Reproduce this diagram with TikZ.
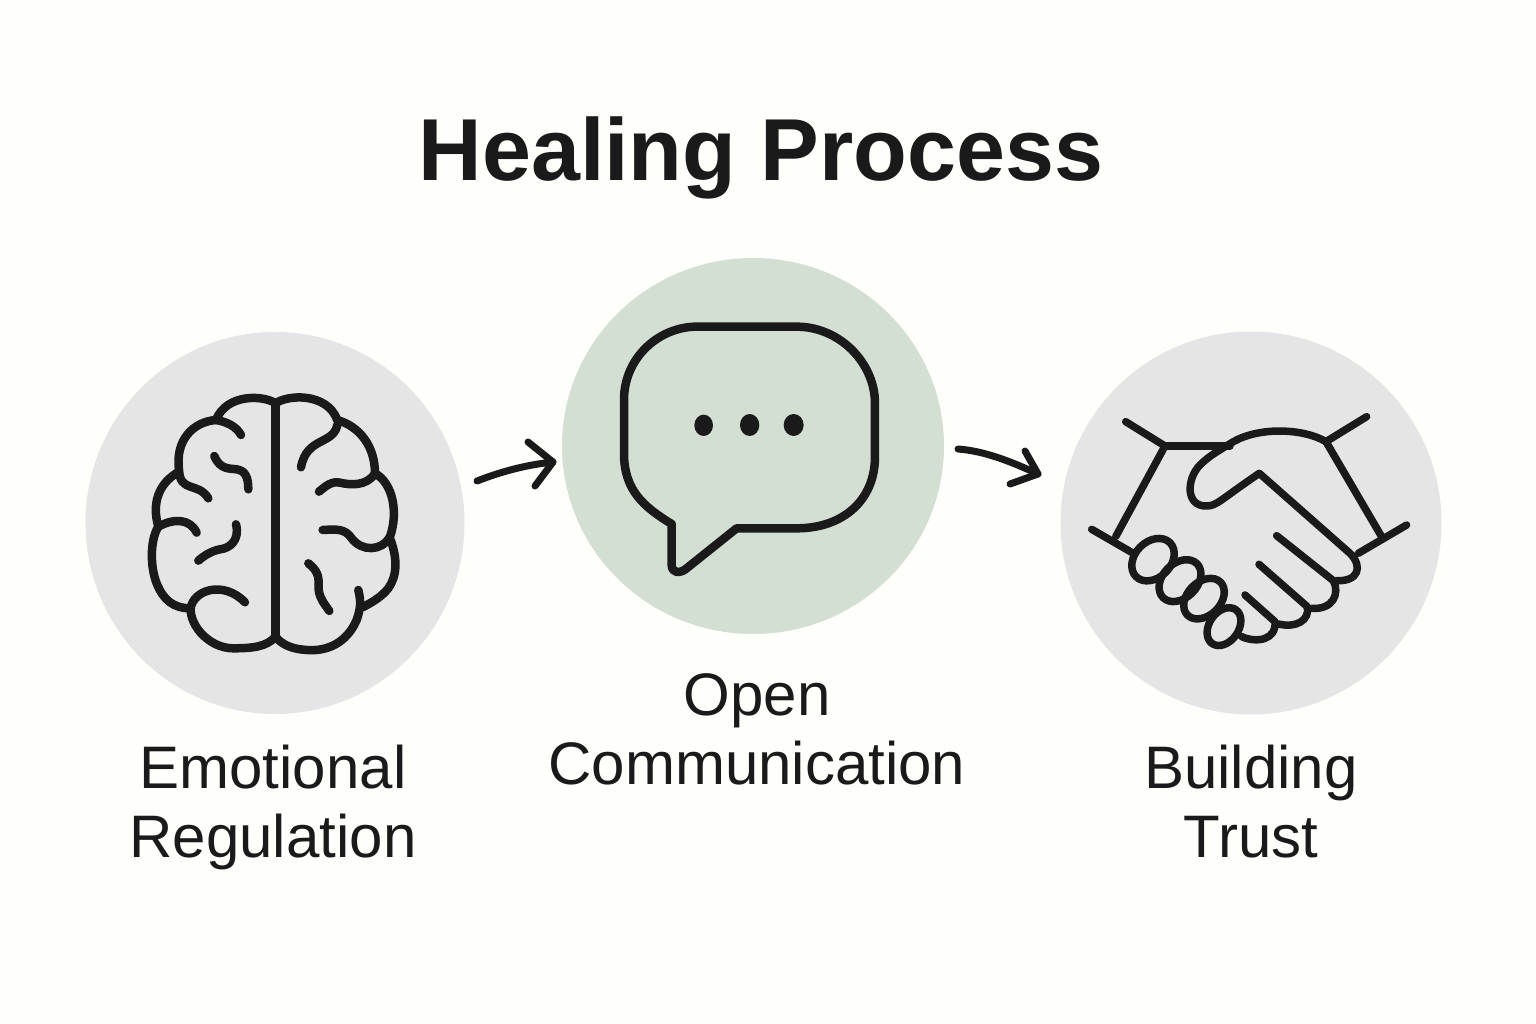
\documentclass[tikz,border=0pt]{standalone}
\usepackage{fontspec}
\usetikzlibrary{shapes.geometric}
\setmainfont{Liberation Sans}
\definecolor{bgc}{HTML}{FEFEFB}
\definecolor{greyc}{HTML}{E5E5E5}
\definecolor{greenc}{HTML}{D3DFD3}
\definecolor{inkc}{HTML}{1A1A1A}
\tikzset{
 disc/.style={ellipse,inner sep=0pt,draw=none},
 icon/.style={draw=inkc,line width=8.5pt,line cap=round,line join=round},
 iconthin/.style={draw=inkc,line width=7.5pt,line cap=round,line join=round},
 lbl/.style={text=inkc,align=center,inner sep=0pt,font=\fontsize{60}{69}\selectfont},
 flow/.style={draw=inkc,line width=7pt,line cap=round,line join=round}
}
\begin{document}
\begin{tikzpicture}[x=1pt,y=-1pt]
\fill[bgc] (0,0) rectangle (1536,1024);
\useasboundingbox (0,0) rectangle (1536,1024);
\node[disc,fill=greyc,minimum width=379pt,minimum height=382pt] (emo) at (275,523) {};
\node[disc,fill=greenc,minimum width=382pt,minimum height=376pt] (open) at (753,446) {};
\node[disc,fill=greyc,minimum width=381pt,minimum height=383pt] (trust) at (1251,523) {};
\node[text=inkc,inner sep=0pt,font=\bfseries\fontsize{88}{100}\selectfont] (title) at (761,158) {Healing Process};
\node[lbl] (l1) at (273,807) {Emotional\\Regulation};
\node[lbl] (l2) at (757,729) {Open\\Communication};
\node[lbl] (l3) at (1251,802) {Building\\Trust};
% brain
\begin{scope}[xshift=130pt,yshift=-370pt,x=0.3333pt,y=-0.3333pt,icon]
\draw (437,100) -- (437,805);
\draw (437,100) .. controls (400,75) and (290,70) .. (258,150);
\draw (258,150) .. controls (190,155) and (135,210) .. (147,300);
\draw (258,150) .. controls (290,155) and (320,170) .. (333,195);
\draw (147,300) .. controls (150,370) and (205,335) .. (235,385);
\draw (147,305) .. controls (85,340) and (65,400) .. (85,470);
\draw (85,470) .. controls (130,445) and (180,445) .. (200,488);
\draw (85,470) .. controls (60,510) and (60,590) .. (80,640) .. controls (100,690) and (130,715) .. (182,715);
\draw (182,715) .. controls (180,770) and (240,835) .. (310,835) .. controls (370,835) and (410,830) .. (437,800);
\draw (182,715) .. controls (190,660) and (280,630) .. (345,697);
\draw (253,258) .. controls (270,300) and (300,295) .. (320,298) .. controls (345,302) and (355,320) .. (355,358);
\draw (318,463) .. controls (330,510) and (300,535) .. (270,538) .. controls (245,543) and (225,555) .. (205,572);
\draw (437,100) .. controls (470,75) and (590,65) .. (622,150);
\draw (622,165) .. controls (610,225) and (530,200) .. (513,292);
\draw (622,150) .. controls (690,170) and (735,230) .. (735,310);
\draw (735,310) .. controls (710,350) and (660,345) .. (630,338) .. controls (605,332) and (585,350) .. (567,365);
\draw (735,310) .. controls (790,340) and (805,430) .. (780,500);
\draw (780,500) .. controls (755,545) and (695,545) .. (665,505) .. controls (645,475) and (620,478) .. (578,480);
\draw (780,505) .. controls (805,570) and (800,620) .. (775,655) .. controls (755,680) and (730,695) .. (698,712);
\draw (685,660) .. controls (695,700) and (690,720) .. (680,750) .. controls (650,820) and (590,845) .. (530,840) .. controls (490,838) and (455,825) .. (437,800);
\draw (535,580) .. controls (580,615) and (560,640) .. (568,670) .. controls (575,695) and (590,710) .. (598,723);
\end{scope}
% bubble
\begin{scope}[xshift=600pt,yshift=-300pt,x=0.3333pt,y=-0.3333pt]
\draw[icon] (215,672) .. controls (130,620) and (72,570) .. (72,460) -- (72,300) .. controls (72,170) and (180,80) .. (290,80) -- (590,80) .. controls (720,80) and (825,190) .. (825,310) -- (825,470) .. controls (825,600) and (730,685) .. (590,685) -- (410,685) -- (260,805) .. controls (240,822) and (215,820) .. (215,795) -- cycle;
\fill[inkc] (311,376) ellipse [x radius=28,y radius=32];
\fill[inkc] (449,375) ellipse [x radius=29,y radius=33];
\fill[inkc] (581,375) ellipse [x radius=30,y radius=33];
\end{scope}
% handshake
\begin{scope}[xshift=1070pt,yshift=-390pt,x=0.3333pt,y=-0.3333pt,iconthin]
\draw (167,95) -- (285,168) -- (137,440);
\draw (65,418) -- (190,490);
\draw (285,168) -- (480,168);
\draw (890,80) -- (768,155) -- (935,440);
\draw (1010,405) -- (865,490);
\draw (768,155) .. controls (700,115) and (570,110) .. (490,155) .. controls (450,180) and (420,195) .. (390,225) .. controls (350,265) and (345,350) .. (410,348) .. controls (440,348) and (450,330) .. (568,250) -- (840,490) .. controls (880,530) and (865,575) .. (800,572);
\draw (620,437) -- (790,572) .. controls (810,610) and (790,660) .. (725,655);
\draw (567,523) -- (712,650) .. controls (720,690) and (680,715) .. (625,702);
\draw (525,615) -- (615,695) .. controls (620,750) and (560,760) .. (515,740);
\draw[rotate around={45:(249,509)}] (249,509) ellipse [x radius=72,y radius=54];
\draw[rotate around={45:(330,572)}] (330,572) ellipse [x radius=72,y radius=52];
\draw[rotate around={45:(402,626)}] (402,626) ellipse [x radius=70,y radius=50];
\draw[rotate around={55:(462,710)}] (462,710) ellipse [x radius=62,y radius=44];
\end{scope}
% arrows
\coordinate (a1s) at (477,481);
\coordinate (a1e) at (553,462);
\coordinate (a1u) at (528,442);
\coordinate (a1d) at (535,486);
\coordinate (a2s) at (958,449);
\coordinate (a2e) at (1038,474);
\coordinate (a2u) at (1025,451);
\coordinate (a2d) at (1010,484);
\draw[flow] (a1s) .. controls (500,472) and (525,465) .. (a1e);
\draw[flow] (a1u) -- (a1e) -- (a1d);
\draw[flow] (a2s) .. controls (985,451) and (1012,462) .. (a2e);
\draw[flow] (a2u) -- (a2e) -- (a2d);
\end{tikzpicture}
\end{document}
